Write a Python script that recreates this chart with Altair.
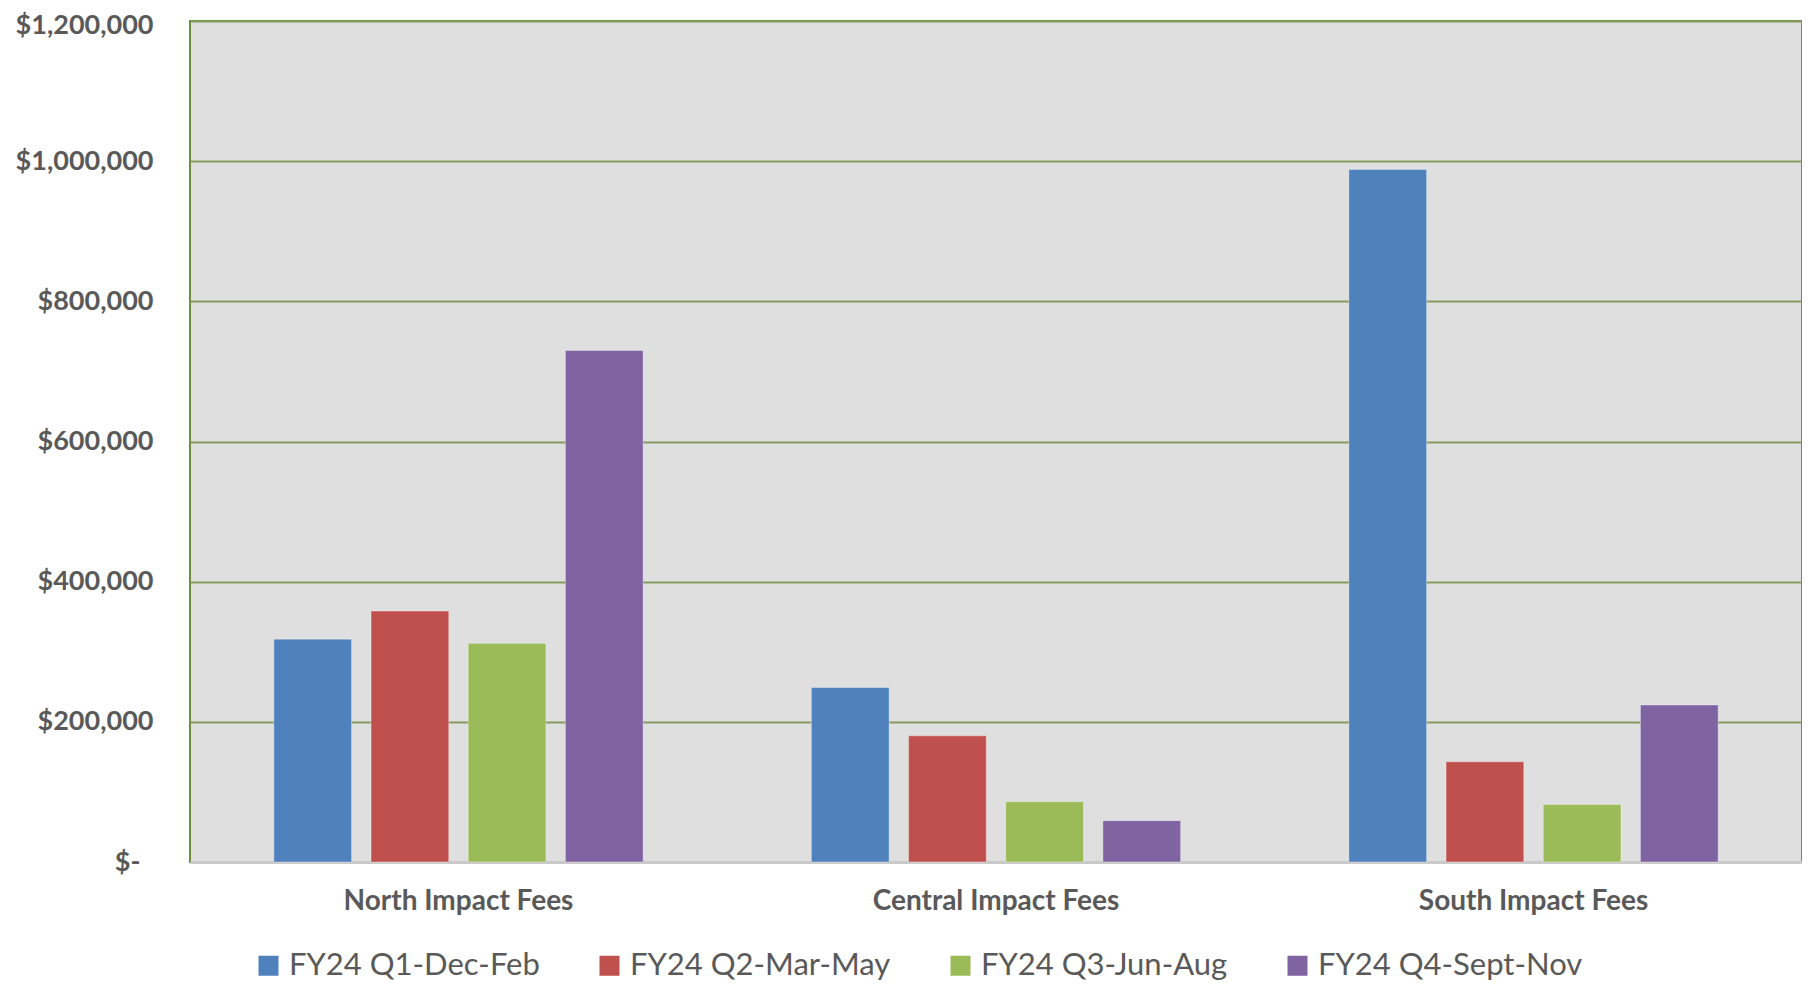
import altair as alt
import pandas as pd

regions = ["North Impact Fees", "Central Impact Fees", "South Impact Fees"]
quarters = ["FY24 Q1-Dec-Feb", "FY24 Q2-Mar-May", "FY24 Q3-Jun-Aug", "FY24 Q4-Sept-Nov"]
q1_values = [318000, 249000, 988000]
q2_values = [358000, 180000, 143000]
q3_values = [312000, 86000, 82000]
q4_values = [730000, 59000, 224000]
colors = ["#4f81bd", "#c0504d", "#9bbb59", "#8064a2"]
y_ticks = [0, 200000, 400000, 600000, 800000, 1000000, 1200000]

series = [q1_values, q2_values, q3_values, q4_values]
rows = []
for q, vals in zip(quarters, series):
    for r, v in zip(regions, vals):
        rows.append({"region": r, "quarter": q, "value": v})
df = pd.DataFrame(rows)

label_expr = "datum.value == 0 ? '$-' : '$' + format(datum.value, ',')"

chart = alt.Chart(df).mark_bar(stroke="#ffffff", strokeOpacity=0.35, strokeWidth=1).encode(
    x=alt.X(
        "region:N",
        sort=regions,
        scale=alt.Scale(paddingInner=0.313, paddingOuter=0.156),
        axis=alt.Axis(
            title=None,
            labelAngle=0,
            labelFont="Lato",
            labelFontWeight="bold",
            labelFontSize=28,
            labelColor="#595959",
            labelLimit=500,
            ticks=False,
            domainColor="#c9c9c9",
            domainWidth=3,
            labelPadding=25,
        ),
    ),
    xOffset=alt.XOffset(
        "quarter:N",
        sort=quarters,
        scale=alt.Scale(paddingInner=0.2, paddingOuter=0),
    ),
    y=alt.Y(
        "value:Q",
        scale=alt.Scale(domain=[0, 1200000], nice=False),
        axis=alt.Axis(
            title=None,
            values=y_ticks,
            labelExpr=label_expr,
            labelFont="Lato",
            labelFontWeight="bold",
            labelFontSize=27,
            labelColor="#595959",
            labelPadding={"condition": {"test": "datum.value == 0", "value": 50}, "value": 37},
            labelOffset={"condition": {"test": "datum.value == 1200000", "value": 4}, "value": 0},
            labelLimit=400,
            ticks=False,
            domain=False,
            grid=True,
            gridColor="#86995e",
            gridWidth=2,
        ),
    ),
    color=alt.Color(
        "quarter:N",
        sort=quarters,
        scale=alt.Scale(domain=quarters, range=colors),
        legend=alt.Legend(
            title=None,
            orient="none",
            direction="horizontal",
            legendX=63,
            legendY=929,
            padding=0,
            symbolType="square",
            symbolSize=400,
            symbolStrokeWidth=0,
            labelFont="Lato",
            labelFontSize=31,
            labelColor="#595959",
            labelOffset=5,
            columnPadding=54,
            labelLimit=400,
        ),
    ),
).properties(
    width=1612,
    height=841,
    background="#ffffff",
    autosize=alt.AutoSizeParams(type="none"),
    padding={"left": 182, "top": 13, "right": 0, "bottom": 120},
).configure_view(
    fill="#dfdfdf",
    stroke="#6f8f3c",
    strokeWidth=2,
)

chart.save("out.html", embed_options={"renderer": "svg", "actions": False})
